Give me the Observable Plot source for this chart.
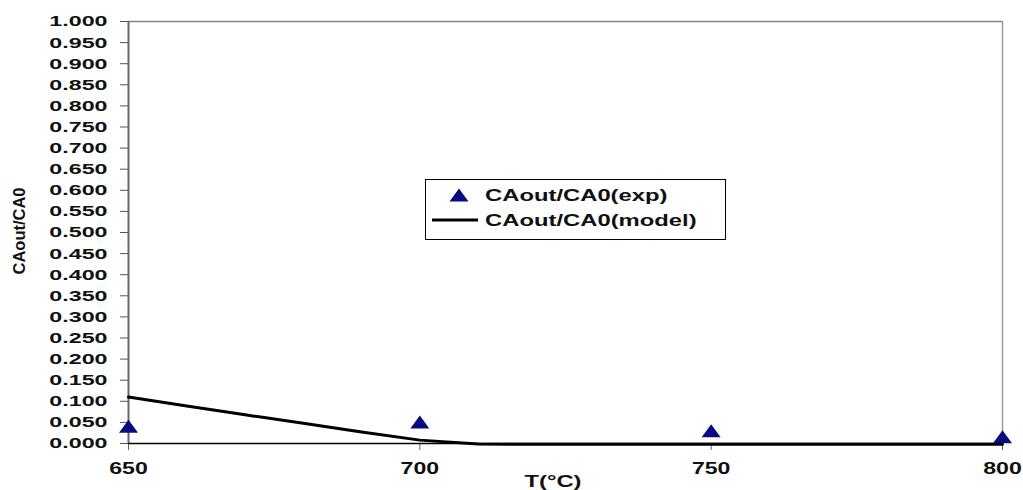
<!DOCTYPE html>
<html><head><meta charset="utf-8">
<script src="https://cdn.jsdelivr.net/npm/d3@7"></script>
<script src="https://cdn.jsdelivr.net/npm/@observablehq/plot@0.6"></script>
<style>
body{margin:0;background:#fff}
#chart{position:relative;width:1023px;height:490px;overflow:hidden}
svg{font-family:"Liberation Sans",Arial,sans-serif}
</style>
</head><body><div id="chart"></div>
<script>
// ---- data ----
const expT = [650, 700, 750, 800];
const expVal = [0.041, 0.051, 0.030, 0.016];
const modelT = [650, 660, 670, 680, 690, 700, 710, 720, 730, 740, 750, 760, 770, 780, 790, 800];
const modelVal = [0.110, 0.089, 0.068, 0.048, 0.027, 0.008, -0.001, -0.002, -0.002, -0.002, -0.002, -0.002, -0.002, -0.002, -0.002, -0.002];
const xTicks = [650, 700, 750, 800];
const yTicks = [0, 0.05, 0.1, 0.15, 0.2, 0.25, 0.3, 0.35, 0.4, 0.45, 0.5, 0.55, 0.6, 0.65, 0.7, 0.75, 0.8, 0.85, 0.9, 0.95, 1.0];
const seriesNames = ["CAout/CA0(exp)", "CAout/CA0(model)"];
const xLabel = "T(°C)";
const yLabel = "CAout/CA0";

const expData = expT.map((t, i) => ({T: t, v: expVal[i]}));
const modelData = modelT.map((t, i) => ({T: t, v: modelVal[i]}));

const wideTriangle = {
  draw(ctx) { ctx.moveTo(0, -6.5); ctx.lineTo(9.5, 6.5); ctx.lineTo(-9.5, 6.5); ctx.closePath(); }
};

const navy = "#0a0a80";

const plot = Plot.plot({
  width: 1023,
  height: 490,
  marginLeft: 128,
  marginRight: 21,
  marginTop: 21,
  marginBottom: 47,
  x: {domain: [650, 800]},
  y: {domain: [0, 1]},
  marks: [
    Plot.ruleY([1], {stroke: "#858585", strokeWidth: 1.5}),
    Plot.ruleX([800], {y1: 0, y2: 1, stroke: "#9a9a9a", strokeWidth: 1.5}),
    Plot.axisY({ticks: yTicks, tickFormat: d3.format(".3f"), tickSize: 8, tickPadding: 13,
      fontSize: 15.5, fontWeight: "bold", stroke: "#555", fill: "#111", label: null}),
    Plot.axisX({ticks: xTicks, tickFormat: d3.format("d"), tickSize: 7, tickPadding: 12,
      fontSize: 16.5, fontWeight: "bold", stroke: "#666", fill: "#111", label: null}),
    Plot.ruleX([650], {y1: 0, y2: 1, stroke: "#666", strokeWidth: 2}),
    Plot.ruleY([0], {stroke: "#000", strokeWidth: 1.5}),
    Plot.line(modelData, {x: "T", y: "v", stroke: "#000", strokeWidth: 3}),
    Plot.dot(expData, {x: "T", y: "v", symbol: wideTriangle, fill: navy, stroke: "none", r: 6})
  ]
});

document.getElementById("chart").appendChild(plot);
const svg = d3.select(plot);

// axis titles
svg.append("text").attr("class", "stretch").attr("data-k", 1.4)
  .attr("x", 553).attr("y", 487).attr("text-anchor", "middle")
  .attr("font-size", 17).attr("font-weight", "bold").attr("fill", "#111").text(xLabel);
svg.append("text")
  .attr("transform", "translate(25,231) rotate(-90)").attr("text-anchor", "middle")
  .attr("font-size", 16.5).attr("font-weight", "bold").attr("fill", "#111").text(yLabel);

// legend
const lg = svg.append("g").attr("text-anchor", "start");
lg.append("rect").attr("x", 425.5).attr("y", 179.5).attr("width", 300).attr("height", 60)
  .attr("fill", "#fff").attr("stroke", "#000").attr("stroke-width", 1);
lg.append("path").attr("transform", "translate(459,195)")
  .attr("d", "M0,-6.5L9.5,6.5L-9.5,6.5Z").attr("fill", navy);
lg.append("line").attr("x1", 432).attr("x2", 478).attr("y1", 220).attr("y2", 220)
  .attr("stroke", "#000").attr("stroke-width", 3);
lg.append("text").attr("class", "stretch").attr("data-k", 1.4).attr("x", 485).attr("y", 201)
  .attr("text-anchor", "start")
  .attr("font-size", 17).attr("font-weight", "bold").attr("fill", "#111").text(seriesNames[0]);
lg.append("text").attr("class", "stretch").attr("data-k", 1.4).attr("x", 485).attr("y", 226)
  .attr("text-anchor", "start")
  .attr("font-size", 17).attr("font-weight", "bold").attr("fill", "#111").text(seriesNames[1]);

// horizontal stretch of text, like the reference
function stretch(sel, k) {
  sel.each(function() {
    const w = this.getComputedTextLength();
    this.setAttribute("textLength", (w * k).toFixed(1));
    this.setAttribute("lengthAdjust", "spacingAndGlyphs");
  });
}
stretch(svg.selectAll('g[aria-label="y-axis tick label"] text'), 1.5);
stretch(svg.selectAll('g[aria-label="x-axis tick label"] text'), 1.4);
svg.selectAll("text.stretch").each(function() { stretch(d3.select(this), +this.getAttribute("data-k")); });
</script>
</body></html>
